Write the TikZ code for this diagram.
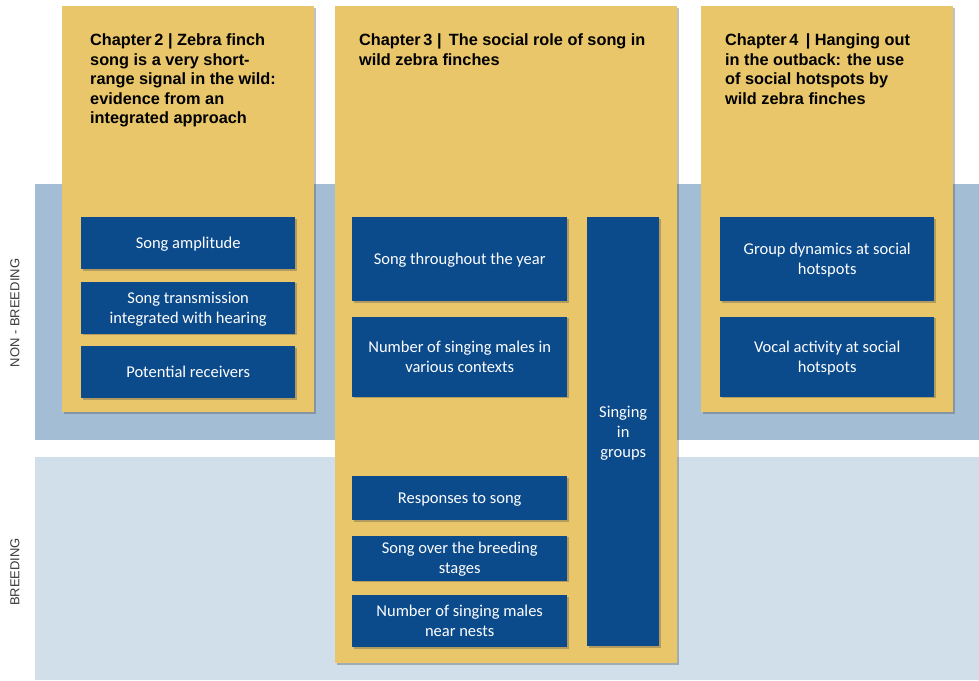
\documentclass[tikz,border=0pt]{standalone}
\usepackage{fontspec}
\setmainfont{Liberation Sans}
\newfontfamily\boxfont{Carlito}
\usepackage{xcolor}
\usetikzlibrary{positioning, shadows}

\definecolor{panelyellow}{HTML}{E9C66A}
\definecolor{topicblue}{HTML}{0B4A8B}
\definecolor{nonbreedblue}{HTML}{A3BED4}
\definecolor{breedblue}{HTML}{D0DFE9}
\definecolor{seasongray}{HTML}{3A3A3A}

\tikzset{
    softshadow/.style={drop shadow={shadow xshift=1.5pt, shadow yshift=-1.5pt, opacity=0.35, fill=black!70}},
    panel/.style={fill=panelyellow, softshadow},
    chaptitle/.style={anchor=north west, align=left, inner sep=0pt, font=\bfseries\fontsize{16.3}{19.5}\selectfont},
    topic/.style={anchor=north west, fill=topicblue, text=white, align=center, inner sep=0pt, text depth=0pt,
        font=\boxfont\fontsize{16.5}{20}\selectfont, softshadow},
    season/.style={rotate=90, text=seasongray, font=\fontsize{13}{15}\selectfont}
}

\begin{document}
\begin{tikzpicture}[x=1pt, y=-1pt, node distance=12pt]
    \useasboundingbox (0,0) rectangle (979,680);

    % Seasons
    \fill[nonbreedblue] (35,184) rectangle (979,440);
    \fill[breedblue] (35,457) rectangle (979,680);
    \node[season] (nonbreed) at (15,313) {NON - BREEDING};
    \node[season] (breed) at (15,572) {BREEDING};

    % Chapter panels
    \fill[panel] (62,6) rectangle (314,412);
    \fill[panel] (335,6) rectangle (677,663);
    \fill[panel] (701,6) rectangle (953,412);

    \node[chaptitle] (ch2) at (90,33.5) {Chapter\,2 | Zebra finch\\song is a very short-\\range signal in the wild:\\evidence from an\\integrated approach};
    \node[chaptitle] (ch3) at (359,33.5) {Chapter\,3 |\, The social role of song in\\wild zebra finches};
    \node[chaptitle] (ch4) at (725,33.5) {Chapter\,4 \,| Hanging out\\in the outback: the use\\of social hotspots by\\wild zebra finches};

    % Chapter 2 topics
    \node[topic, minimum width=214pt, minimum height=52pt] (amplitude) at (81,217) {Song amplitude};
    \node[topic, minimum width=214pt, minimum height=52pt, below=of amplitude] (transmission) {Song transmission\\integrated with hearing};
    \node[topic, minimum width=214pt, minimum height=52pt, below=of transmission] (receivers) {Potential receivers};

    % Chapter 3 topics
    \node[topic, minimum width=215pt, minimum height=84pt] (year) at (352,217) {Song throughout the year};
    \node[topic, minimum width=215pt, minimum height=80pt, below=15pt of year] (contexts) {Number of singing males in\\various contexts};
    \node[topic, minimum width=215pt, minimum height=44pt] (responses) at (352,476) {Responses to song};
    \node[topic, minimum width=215pt, minimum height=45pt, below=15pt of responses] (stages) {Song over the breeding\\stages};
    \node[topic, minimum width=215pt, minimum height=52pt, below=14pt of stages] (nests) {Number of singing males\\near nests};
    \node[topic, minimum width=72pt, minimum height=429pt] (groups) at (587,217) {Singing\\in\\groups};

    % Chapter 4 topics
    \node[topic, minimum width=214pt, minimum height=84pt] (dynamics) at (720,217) {Group dynamics at social\\hotspots};
    \node[topic, minimum width=214pt, minimum height=80pt, below=15pt of dynamics] (vocal) {Vocal activity at social\\hotspots};
\end{tikzpicture}
\end{document}
